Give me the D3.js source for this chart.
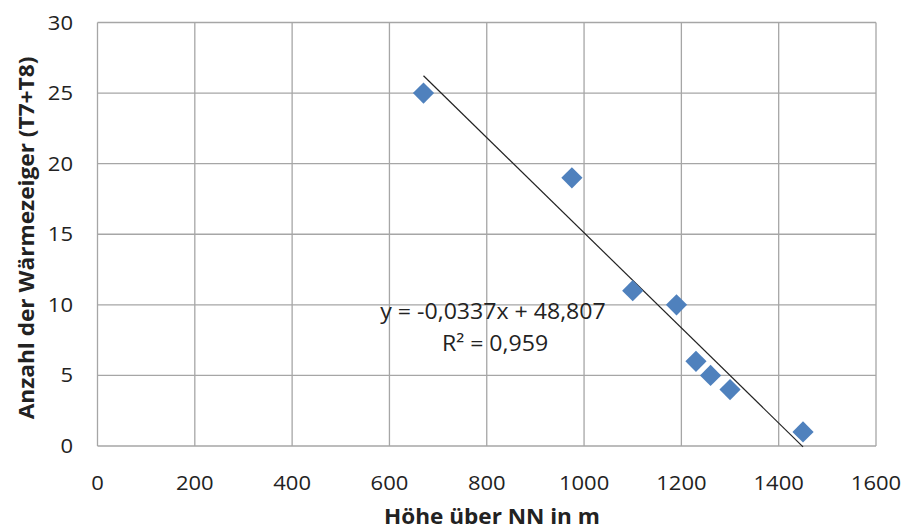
<!DOCTYPE html>
<meta charset="utf-8">
<script src="https://d3js.org/d3.v7.min.js"></script>
<style>
  body { margin: 0; background: #fff; }
  text { font-family: "Open Sans", "Liberation Sans", sans-serif; fill: #222; }
</style>
<div id="chart"></div>
<script>
// data
var hoehe = [670, 975, 1100, 1190, 1230, 1260, 1300, 1450];
var anzahl = [25, 19, 11, 10, 6, 5, 4, 1];
var xTicks = [0, 200, 400, 600, 800, 1000, 1200, 1400, 1600];
var yTicks = [0, 5, 10, 15, 20, 25, 30];
var slope = -0.0337, intercept = 48.807;
var eqLines = ["y = -0,0337x + 48,807", "R\u00b2 = 0,959"];

var width = 907, height = 531;
var margin = {top: 22.5, right: 31, bottom: 85, left: 97.5};
var sx = 1.1; // the reference font runs a little wider

var svg = d3.select("#chart").append("svg")
    .attr("width", width)
    .attr("height", height);

var x = d3.scaleLinear().domain([0, 1600]).range([margin.left, width - margin.right]);
var y = d3.scaleLinear().domain([0, 30]).range([height - margin.bottom, margin.top]);

// grid
svg.append("g").selectAll("line")
  .data(xTicks).enter().append("line")
    .attr("x1", d => x(d)).attr("x2", d => x(d))
    .attr("y1", y(0)).attr("y2", y(30))
    .attr("stroke", "#a6a6a6").attr("stroke-width", 1.3);
svg.append("g").selectAll("line")
  .data(yTicks).enter().append("line")
    .attr("x1", x(0)).attr("x2", x(1600))
    .attr("y1", d => y(d)).attr("y2", d => y(d))
    .attr("stroke", "#a6a6a6").attr("stroke-width", 1.3);

// tick labels
svg.append("g").selectAll("text")
  .data(xTicks).enter().append("text")
    .attr("transform", d => "translate(" + x(d) + "," + (y(0) + 44) + ") scale(" + sx + ",1)")
    .attr("text-anchor", "middle")
    .attr("font-size", 20)
    .text(d => d);
svg.append("g").selectAll("text")
  .data(yTicks).enter().append("text")
    .attr("transform", d => "translate(" + (x(0) - 24.5) + "," + (y(d) + 7) + ") scale(" + sx + ",1)")
    .attr("text-anchor", "end")
    .attr("font-size", 20)
    .text(d => d);

// trend line
var x0 = d3.min(hoehe), x1 = d3.max(hoehe);
svg.append("line")
    .attr("x1", x(x0)).attr("y1", y(slope * x0 + intercept))
    .attr("x2", x(x1)).attr("y2", y(slope * x1 + intercept))
    .attr("stroke", "#222").attr("stroke-width", 1.2);

// points
var pts = hoehe.map((h, i) => [h, anzahl[i]]);
svg.append("g").selectAll("path")
  .data(pts).enter().append("path")
    .attr("d", d3.symbol().type(d3.symbolSquare).size(225))
    .attr("transform", d => "translate(" + x(d[0]) + "," + y(d[1]) + ") rotate(45)")
    .attr("fill", "#4f81bd");

// equation
svg.append("g").selectAll("text")
  .data(eqLines).enter().append("text")
    .attr("transform", (d, i) => "translate(" + (493 + i * 2) + "," + (319 + i * 32) + ") scale(" + sx + ",1)")
    .attr("text-anchor", "middle")
    .attr("font-size", 21)
    .text(d => d);

// axis titles
svg.append("text")
    .attr("transform", "translate(492,524) scale(1.1,1)")
    .attr("text-anchor", "middle")
    .attr("font-size", 20.5).attr("font-weight", "bold")
    .text("Höhe über NN in m");
svg.append("text")
    .attr("transform", "translate(34,238) rotate(-90) scale(1.08,1)")
    .attr("text-anchor", "middle")
    .attr("font-size", 21).attr("font-weight", "bold")
    .text("Anzahl der Wärmezeiger (T7+T8)");
</script>
